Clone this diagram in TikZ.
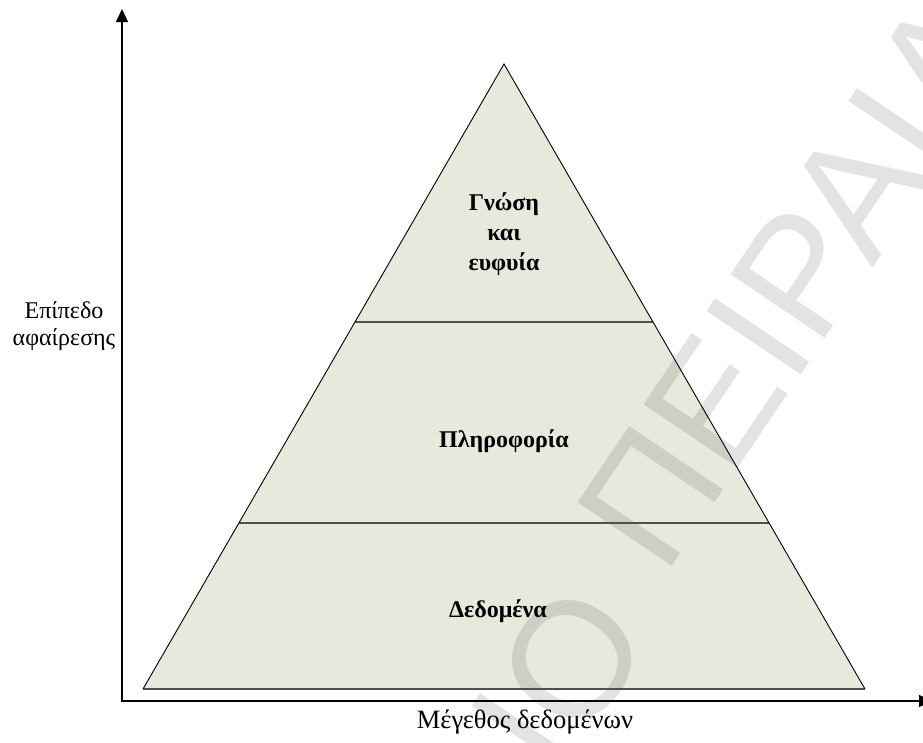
\documentclass[tikz,border=0pt]{standalone}
\usepackage{fontspec}
\setmainfont{Liberation Serif}
\newfontfamily\markfont{Liberation Sans}
\usetikzlibrary{arrows.meta}

\definecolor{pyrfill}{RGB}{230,233,220}
\definecolor{bandline}{RGB}{80,80,80}

\begin{document}
\begin{tikzpicture}[x=1pt,y=-1pt,
  axis/.style={line width=1.3pt, {Triangle[length=13pt,width=12pt]}-{Triangle[length=13pt,width=12pt]}},
  side/.style={line width=0.9pt, line join=miter},
  band/.style={line width=1.6pt, draw=bandline},
  tier/.style={font=\fontsize{24}{30}\selectfont\bfseries, align=center, inner sep=0pt},
  axislabel/.style={font=\fontsize{24}{27}\selectfont, align=center, inner sep=0pt},
  watermark/.style={font=\markfont\fontsize{165}{165}\selectfont, text=black,
    text opacity=0.11, rotate=56, inner sep=0pt}
]
% page frame
\clip (0,0) rectangle (923,742);
\fill[white] (0,0) rectangle (923,742);

% pyramid corners and tier boundaries
\coordinate (apex) at (504,64);
\coordinate (bl) at (143,689);
\coordinate (br) at (865,689);
\coordinate (l1) at (355,322);
\coordinate (r1) at (653,322);
\coordinate (l2) at (239,523);
\coordinate (r2) at (769,523);

\fill[pyrfill] (apex) -- (br) -- (bl) -- cycle;

% faint diagonal lettering
\node[watermark, anchor=base east] (wmA) at (655,638) {ΙΟ};
\node[watermark, anchor=base west] (wmB) at (664,578) {ΠΕΙΡΑΙΑ};

\draw[band] (l1) -- (r1);
\draw[band] (l2) -- (r2);
\draw[band] (bl) -- (br);
\draw[side] (bl) -- (apex) -- (br);

% axes
\coordinate (ytop) at (122,9);
\coordinate (origin) at (122,701);
\coordinate (xend) at (932,701);
\draw[axis] (ytop) -- (origin) -- (xend);

% tier labels
\node[tier] (wisdom) at (504,234) {Γνώση\\και\\ευφυία};
\node[tier, anchor=base] (info) at (504,447) {Πληροφορία};
\node[tier, anchor=base] (data) at (498,617) {Δεδομένα};

% axis labels
\node[axislabel] (ylab) at (64,326) {Επίπεδο\\αφαίρεσης};
\node[axislabel, font=\fontsize{26.5}{28}\selectfont, anchor=base] (xlab) at (525,728) {Μέγεθος δεδομένων};
\end{tikzpicture}
\end{document}
